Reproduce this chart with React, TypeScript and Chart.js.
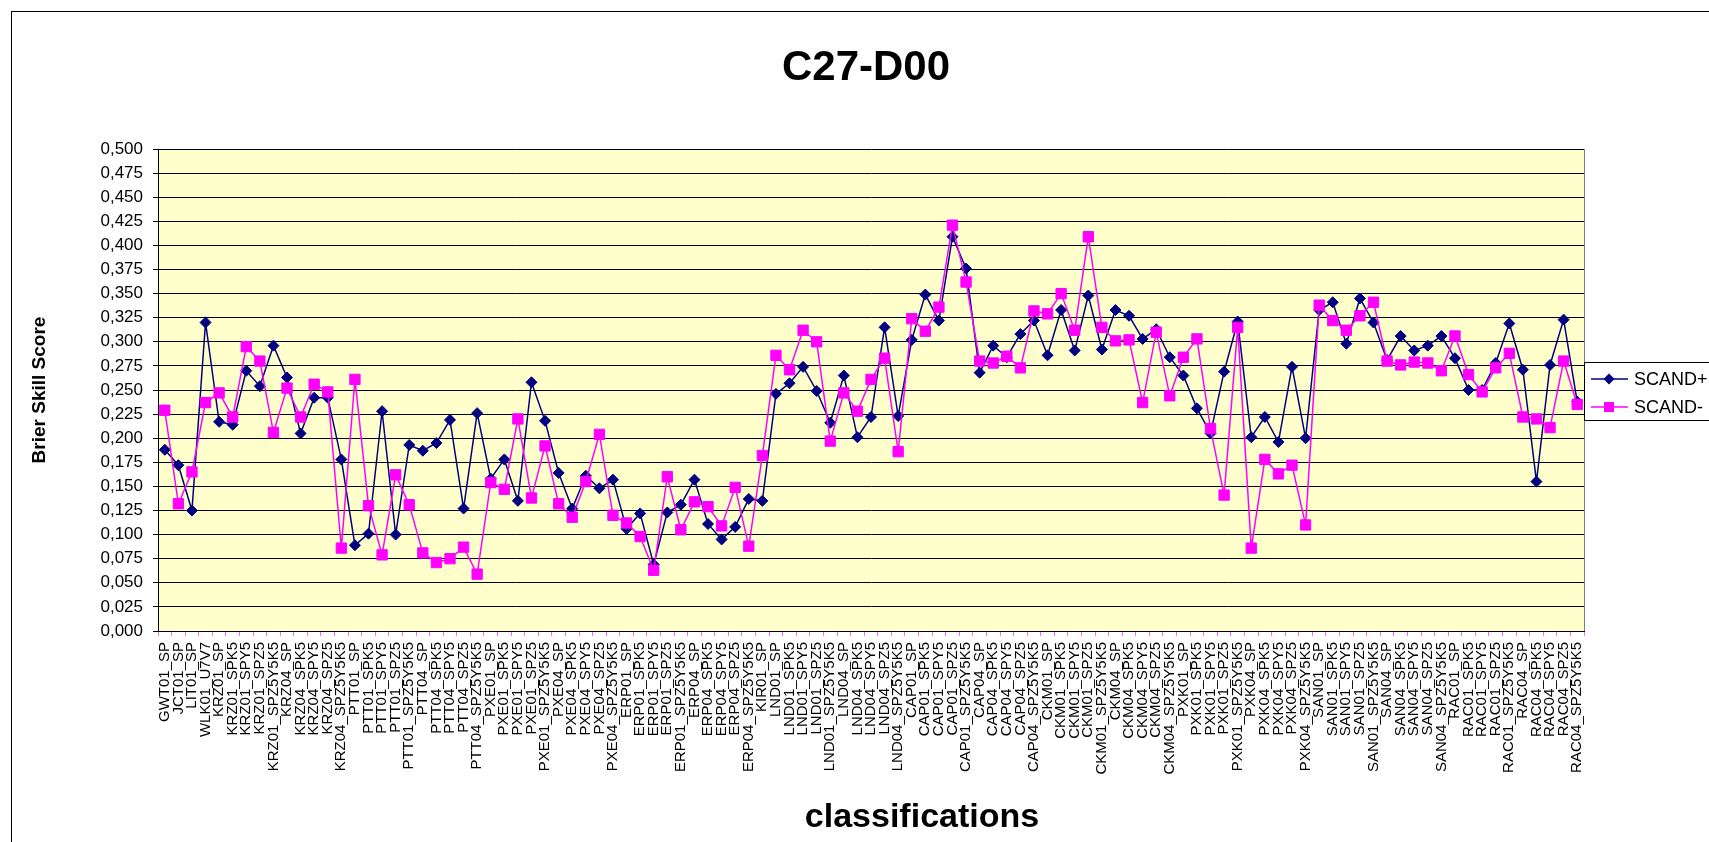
import React, { useEffect, useRef } from "react";
import { Chart, registerables } from "chart.js";

Chart.register(...registerables);

const chartTitle = "C27-D00";
const xAxisTitle = "classifications";
const yAxisTitle = "Brier Skill Score";
const seriesNames = ["SCAND+", "SCAND-"];

const categories = [
  "GWT01_SP", "JCT01_SP", "LIT01_SP", "WLK01_U7V7",
  "KRZ01_SP", "KRZ01_SPK5", "KRZ01_SPY5", "KRZ01_SPZ5", "KRZ01_SPZ5Y5K5",
  "KRZ04_SP", "KRZ04_SPK5", "KRZ04_SPY5", "KRZ04_SPZ5", "KRZ04_SPZ5Y5K5",
  "PTT01_SP", "PTT01_SPK5", "PTT01_SPY5", "PTT01_SPZ5", "PTT01_SPZ5Y5K5",
  "PTT04_SP", "PTT04_SPK5", "PTT04_SPY5", "PTT04_SPZ5", "PTT04_SPZ5Y5K5",
  "PXE01_SP", "PXE01_SPK5", "PXE01_SPY5", "PXE01_SPZ5", "PXE01_SPZ5Y5K5",
  "PXE04_SP", "PXE04_SPK5", "PXE04_SPY5", "PXE04_SPZ5", "PXE04_SPZ5Y5K5",
  "ERP01_SP", "ERP01_SPK5", "ERP01_SPY5", "ERP01_SPZ5", "ERP01_SPZ5Y5K5",
  "ERP04_SP", "ERP04_SPK5", "ERP04_SPY5", "ERP04_SPZ5", "ERP04_SPZ5Y5K5",
  "KIR01_SP",
  "LND01_SP", "LND01_SPK5", "LND01_SPY5", "LND01_SPZ5", "LND01_SPZ5Y5K5",
  "LND04_SP", "LND04_SPK5", "LND04_SPY5", "LND04_SPZ5", "LND04_SPZ5Y5K5",
  "CAP01_SP", "CAP01_SPK5", "CAP01_SPY5", "CAP01_SPZ5", "CAP01_SPZ5Y5K5",
  "CAP04_SP", "CAP04_SPK5", "CAP04_SPY5", "CAP04_SPZ5", "CAP04_SPZ5Y5K5",
  "CKM01_SP", "CKM01_SPK5", "CKM01_SPY5", "CKM01_SPZ5", "CKM01_SPZ5Y5K5",
  "CKM04_SP", "CKM04_SPK5", "CKM04_SPY5", "CKM04_SPZ5", "CKM04_SPZ5Y5K5",
  "PXK01_SP", "PXK01_SPK5", "PXK01_SPY5", "PXK01_SPZ5", "PXK01_SPZ5Y5K5",
  "PXK04_SP", "PXK04_SPK5", "PXK04_SPY5", "PXK04_SPZ5", "PXK04_SPZ5Y5K5",
  "SAN01_SP", "SAN01_SPK5", "SAN01_SPY5", "SAN01_SPZ5", "SAN01_SPZ5Y5K5",
  "SAN04_SP", "SAN04_SPK5", "SAN04_SPY5", "SAN04_SPZ5", "SAN04_SPZ5Y5K5",
  "RAC01_SP", "RAC01_SPK5", "RAC01_SPY5", "RAC01_SPZ5", "RAC01_SPZ5Y5K5",
  "RAC04_SP", "RAC04_SPK5", "RAC04_SPY5", "RAC04_SPZ5", "RAC04_SPZ5Y5K5",
];

const scandPlus = [
  0.188, 0.172, 0.125, 0.320,
  0.217, 0.214, 0.270, 0.254, 0.296,
  0.263, 0.205, 0.242, 0.242, 0.178,
  0.089, 0.101, 0.228, 0.100, 0.193,
  0.187, 0.195, 0.219, 0.127, 0.226,
  0.158, 0.178, 0.135, 0.258, 0.218,
  0.164, 0.127, 0.161, 0.148, 0.157,
  0.106, 0.122, 0.069, 0.123, 0.131,
  0.157, 0.111, 0.095, 0.108, 0.137,
  0.135,
  0.246, 0.257, 0.274, 0.249, 0.216,
  0.265, 0.201, 0.222, 0.315, 0.223,
  0.302, 0.349, 0.322, 0.409, 0.376,
  0.268, 0.296, 0.284, 0.308, 0.322,
  0.286, 0.333, 0.291, 0.348, 0.292,
  0.333, 0.327, 0.303, 0.313, 0.284,
  0.265, 0.231, 0.205, 0.269, 0.321,
  0.201, 0.222, 0.196, 0.274, 0.200,
  0.333, 0.341, 0.298, 0.345, 0.320,
  0.281, 0.306, 0.291, 0.296, 0.306,
  0.283, 0.250, 0.250, 0.278, 0.319,
  0.271, 0.155, 0.276, 0.323, 0.238,
];

const scandMinus = [
  0.229, 0.132, 0.165, 0.237,
  0.247, 0.222, 0.295, 0.280, 0.206,
  0.252, 0.222, 0.256, 0.248, 0.086,
  0.261, 0.130, 0.079, 0.162, 0.131,
  0.081, 0.071, 0.075, 0.087, 0.059,
  0.154, 0.147, 0.220, 0.138, 0.192,
  0.132, 0.118, 0.155, 0.204, 0.120,
  0.112, 0.098, 0.063, 0.160, 0.105,
  0.134, 0.129, 0.109, 0.149, 0.088,
  0.182,
  0.286, 0.271, 0.312, 0.300, 0.197,
  0.247, 0.228, 0.261, 0.283, 0.186,
  0.324, 0.311, 0.336, 0.421, 0.362,
  0.280, 0.278, 0.285, 0.273, 0.332,
  0.329, 0.350, 0.312, 0.409, 0.315,
  0.301, 0.302, 0.237, 0.310, 0.244,
  0.284, 0.303, 0.210, 0.141, 0.315,
  0.086, 0.178, 0.163, 0.172, 0.110,
  0.338, 0.322, 0.312, 0.327, 0.341,
  0.280, 0.276, 0.279, 0.278, 0.270,
  0.306, 0.266, 0.248, 0.273, 0.288,
  0.222, 0.220, 0.211, 0.280, 0.235,
];

const FONT = "'Liberation Sans', Arial, sans-serif";
const NAVY = "#000080";
const MAGENTA = "#FF00FF";

const decorPlugin = {
  id: "decor",
  beforeDraw(chart: any) {
    const { ctx, chartArea: a, width, height } = chart;
    ctx.save();
    ctx.fillStyle = "#FFFFFF";
    ctx.fillRect(0, 0, width, height);
    ctx.fillStyle = "#FFFFCC";
    ctx.fillRect(a.left, a.top, a.right - a.left, a.bottom - a.top);
    ctx.restore();
  },
  afterDraw(chart: any) {
    const { ctx, chartArea: a } = chart;
    ctx.save();
    // outer chart frame
    ctx.strokeStyle = "#000000";
    ctx.lineWidth = 1;
    ctx.strokeRect(11.5, 11.5, 1800, 1000);
    // plot right border
    ctx.strokeStyle = "#808080";
    ctx.beginPath();
    ctx.moveTo(Math.round(a.right) + 0.5, a.top);
    ctx.lineTo(Math.round(a.right) + 0.5, a.bottom);
    ctx.stroke();

    // title
    ctx.fillStyle = "#000000";
    ctx.textAlign = "center";
    ctx.textBaseline = "middle";
    ctx.font = `bold 42px ${FONT}`;
    ctx.fillText(chartTitle, 866, 68);

    // x axis title
    ctx.font = `bold 34px ${FONT}`;
    ctx.fillText(xAxisTitle, 922, 818);

    // legend
    const lx = Math.round(a.right) + 0.5;
    const ly = 362.5;
    ctx.fillStyle = "#FFFFFF";
    ctx.fillRect(lx, ly, 200, 58);
    ctx.strokeStyle = "#000000";
    ctx.lineWidth = 1;
    ctx.strokeRect(lx, ly, 200, 58);
    const rows = [379, 407];
    chart.data.datasets.forEach((ds: any, i: number) => {
      const y = rows[i];
      ctx.strokeStyle = ds.borderColor;
      ctx.lineWidth = 1.5;
      ctx.beginPath();
      ctx.moveTo(1591, y);
      ctx.lineTo(1628, y);
      ctx.stroke();
      const cx = 1609;
      ctx.fillStyle = ds.backgroundColor;
      ctx.beginPath();
      if (ds.pointStyle === "rectRot") {
        ctx.moveTo(cx - 5.5, y);
        ctx.lineTo(cx, y - 5.5);
        ctx.lineTo(cx + 5.5, y);
        ctx.lineTo(cx, y + 5.5);
        ctx.closePath();
      } else {
        ctx.rect(cx - 5, y - 5, 10, 10);
      }
      ctx.fill();
      ctx.fillStyle = "#000000";
      ctx.textAlign = "left";
      ctx.textBaseline = "middle";
      ctx.font = `18px ${FONT}`;
      ctx.fillText(ds.label, 1634, y + 1);
    });
    ctx.restore();
  },
};

export default function App() {
  const canvasRef = useRef<HTMLCanvasElement | null>(null);

  useEffect(() => {
    const canvas = canvasRef.current;
    if (!canvas) return;
    const chart = new Chart(canvas, {
      type: "line",
      data: {
        labels: categories,
        datasets: [
          {
            label: seriesNames[0],
            data: scandPlus,
            borderColor: NAVY,
            backgroundColor: NAVY,
            borderWidth: 1.5,
            pointStyle: "rectRot",
            pointRadius: 5.5,
            pointBorderWidth: 1,
            tension: 0,
            order: 1,
          },
          {
            label: seriesNames[1],
            data: scandMinus,
            borderColor: MAGENTA,
            backgroundColor: MAGENTA,
            borderWidth: 1.5,
            pointStyle: "rect",
            pointRadius: 7.3,
            pointBorderWidth: 1,
            tension: 0,
            order: 0,
          },
        ],
      },
      options: {
        responsive: false,
        animation: false,
        layout: { padding: { left: 0, top: 149, right: 125, bottom: 0 } },
        plugins: {
          legend: { display: false },
          title: { display: false },
          tooltip: { enabled: false },
        },
        scales: {
          x: {
            type: "category",
            offset: true,
            grid: {
              display: true,
              drawOnChartArea: false,
              drawTicks: true,
              tickLength: 5,
              color: "#FF66FF",
              offset: true,
            },
            border: { display: true, color: "#000000", width: 1 },
            ticks: {
              autoSkip: false,
              minRotation: 90,
              maxRotation: 90,
              padding: 6,
              color: "#000000",
              font: { family: FONT, size: 15 },
            },
            afterFit: (s: any) => {
              s.height = 211;
            },
          },
          y: {
            min: 0,
            max: 0.5,
            ticks: {
              stepSize: 0.025,
              maxTicksLimit: 25,
              padding: 10,
              color: "#000000",
              font: { family: FONT, size: 17 },
              callback: (v: any) => Number(v).toFixed(3).replace(".", ","),
            },
            grid: { color: "#000000", lineWidth: 1, drawTicks: true, tickLength: 5 },
            border: { display: true, color: "#000000", width: 1 },
            title: {
              display: true,
              text: yAxisTitle,
              color: "#000000",
              font: { family: FONT, size: 19, weight: "bold" },
              padding: { top: 28, bottom: 0 },
            },
            afterFit: (s: any) => {
              s.width = 158;
            },
          },
        },
      },
      plugins: [decorPlugin],
    });
    return () => chart.destroy();
  }, []);

  return (
    <div style={{ position: "fixed", left: 0, top: 0, width: 1709, height: 842, background: "#fff" }}>
      <canvas ref={canvasRef} width={1709} height={842} style={{ display: "block", width: 1709, height: 842 }} />
    </div>
  );
}
